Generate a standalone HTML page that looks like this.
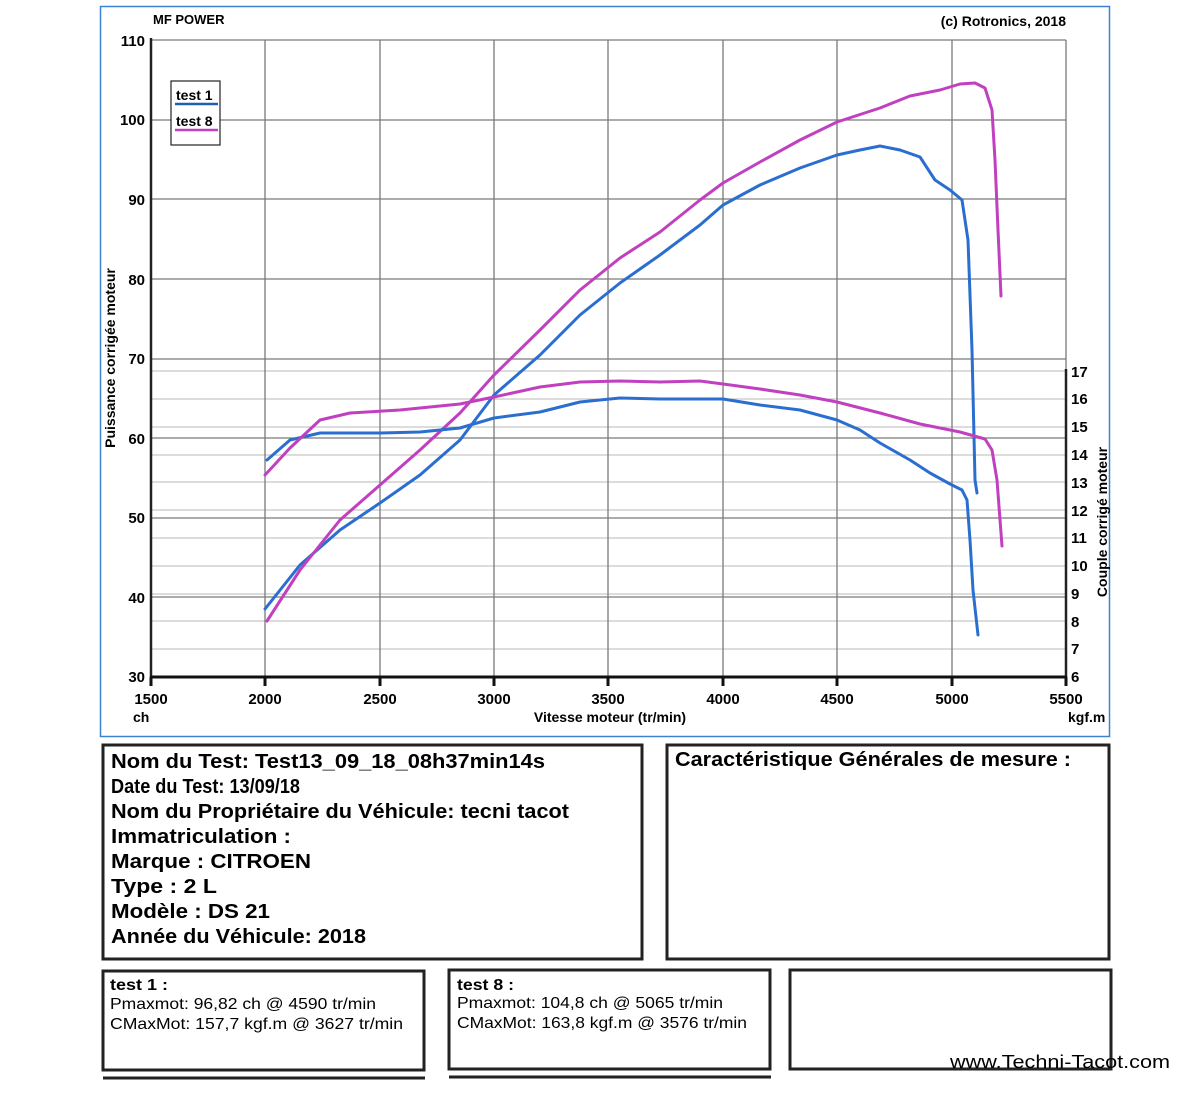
<!DOCTYPE html>
<html><head><meta charset="utf-8"><style>
html,body{margin:0;padding:0;background:#fff;}
svg{display:block;font-family:"Liberation Sans",Arial,sans-serif;}
</style></head><body>
<svg width="1200" height="1098" viewBox="0 0 1200 1098" xmlns="http://www.w3.org/2000/svg">
<rect width="1200" height="1098" fill="#fff"/>
<rect x="100.5" y="6.5" width="1009" height="730" fill="none" stroke="#3b82d0" stroke-width="1.5"/>
<text x="153" y="24" font-size="13" font-weight="bold">MF POWER</text>
<text x="1066" y="26" font-size="14" font-weight="bold" text-anchor="end">(c) Rotronics, 2018</text>
<g stroke="#b8b8b8" stroke-width="1">
<line x1="151" y1="371" x2="1066" y2="371"/><line x1="151" y1="399" x2="1066" y2="399"/>
<line x1="151" y1="427" x2="1066" y2="427"/><line x1="151" y1="455" x2="1066" y2="455"/>
<line x1="151" y1="482" x2="1066" y2="482"/><line x1="151" y1="510" x2="1066" y2="510"/>
<line x1="151" y1="538" x2="1066" y2="538"/><line x1="151" y1="566" x2="1066" y2="566"/>
<line x1="151" y1="594" x2="1066" y2="594"/><line x1="151" y1="621" x2="1066" y2="621"/>
<line x1="151" y1="649" x2="1066" y2="649"/>
</g>
<g stroke="#7a7a7a" stroke-width="1.3">
<line x1="151" y1="40" x2="1066" y2="40"/><line x1="151" y1="120" x2="1066" y2="120"/>
<line x1="151" y1="199" x2="1066" y2="199"/><line x1="151" y1="279" x2="1066" y2="279"/>
<line x1="151" y1="359" x2="1066" y2="359"/><line x1="151" y1="438" x2="1066" y2="438"/>
<line x1="151" y1="518" x2="1066" y2="518"/><line x1="151" y1="597" x2="1066" y2="597"/>
<line x1="265" y1="40" x2="265" y2="677"/><line x1="380" y1="40" x2="380" y2="677"/>
<line x1="494" y1="40" x2="494" y2="677"/><line x1="608" y1="40" x2="608" y2="677"/>
<line x1="723" y1="40" x2="723" y2="677"/><line x1="837" y1="40" x2="837" y2="677"/>
<line x1="952" y1="40" x2="952" y2="677"/><line x1="1066" y1="40" x2="1066" y2="371"/>
</g>
<line x1="151" y1="38" x2="151" y2="679" stroke="#222" stroke-width="2.5"/>
<line x1="1066" y1="369" x2="1066" y2="679" stroke="#222" stroke-width="2.5"/>
<line x1="150" y1="677" x2="1067" y2="677" stroke="#111" stroke-width="3"/>
<g stroke="#111" stroke-width="3">
<line x1="265" y1="677" x2="265" y2="686"/><line x1="380" y1="677" x2="380" y2="686"/>
<line x1="494" y1="677" x2="494" y2="686"/><line x1="608" y1="677" x2="608" y2="686"/>
<line x1="723" y1="677" x2="723" y2="686"/><line x1="837" y1="677" x2="837" y2="686"/>
<line x1="952" y1="677" x2="952" y2="686"/><line x1="1066" y1="677" x2="1066" y2="686"/>
<line x1="151" y1="677" x2="151" y2="686"/>
</g>
<g font-size="15" font-weight="bold" text-anchor="end">
<text x="145" y="46">110</text><text x="145" y="125">100</text><text x="145" y="205">90</text>
<text x="145" y="285">80</text><text x="145" y="364">70</text><text x="145" y="444">60</text>
<text x="145" y="523">50</text><text x="145" y="603">40</text><text x="145" y="682">30</text>
</g>
<g font-size="15" font-weight="bold" text-anchor="middle">
<text x="151" y="704">1500</text><text x="265" y="704">2000</text><text x="380" y="704">2500</text>
<text x="494" y="704">3000</text><text x="608" y="704">3500</text><text x="723" y="704">4000</text>
<text x="837" y="704">4500</text><text x="952" y="704">5000</text><text x="1066" y="704">5500</text>
</g>
<text x="133" y="722" font-size="14" font-weight="bold">ch</text>
<text x="610" y="722" font-size="14" font-weight="bold" text-anchor="middle">Vitesse moteur (tr/min)</text>
<text x="1068" y="722" font-size="14" font-weight="bold">kgf.m</text>
<g font-size="15" font-weight="bold">
<text x="1071" y="377">17</text><text x="1071" y="404">16</text><text x="1071" y="432">15</text>
<text x="1071" y="460">14</text><text x="1071" y="488">13</text><text x="1071" y="516">12</text>
<text x="1071" y="543">11</text><text x="1071" y="571">10</text><text x="1071" y="599">9</text>
<text x="1071" y="627">8</text><text x="1071" y="654">7</text><text x="1071" y="682">6</text>
</g>
<text transform="translate(115,358) rotate(-90)" font-size="14" font-weight="bold" text-anchor="middle">Puissance corrigée moteur</text>
<text transform="translate(1107,522) rotate(-90)" font-size="14" font-weight="bold" text-anchor="middle">Couple corrigé moteur</text>
<rect x="171" y="81" width="49" height="64" fill="#fff" stroke="#222" stroke-width="1.2"/>
<text x="176" y="100" font-size="14" font-weight="bold">test 1</text>
<line x1="175" y1="104" x2="218" y2="104" stroke="#1f5fb0" stroke-width="2.5"/>
<text x="176" y="126" font-size="14" font-weight="bold">test 8</text>
<line x1="175" y1="130" x2="218" y2="130" stroke="#c040c0" stroke-width="2.5"/>
<g fill="none" stroke-width="3" stroke-linejoin="round" stroke-linecap="round">
<polyline stroke="#2a6fcf" points="265,609 300,565 340,530 380,503 420,475 460,440 494,395 540,355 580,315 620,283 660,255 700,225 723,205 760,185 800,168 837,155 860,150 880,146 900,150 920,157 935,180 950,190 962,200 968,240 972,350 975,480 977,493"/>
<polyline stroke="#c040c0" points="267,621 300,570 340,520 380,485 420,450 460,413 494,375 540,330 580,290 620,258 660,232 700,200 723,183 760,162 800,140 837,122 880,108 910,96 940,90 960,84 975,83 985,88 992,110 995,160 998,230 1001,296"/>
<polyline stroke="#2a6fcf" points="267,460 290,440 320,433 380,433 420,432 460,428 494,418 540,412 580,402 620,398 660,399 700,399 723,399 760,405 800,410 837,420 860,430 880,443 910,460 930,473 950,484 962,490 967,500 970,540 973,590 978,635"/>
<polyline stroke="#c040c0" points="265,475 290,448 320,420 350,413 400,410 460,404 494,397 540,387 580,382 620,381 660,382 700,381 723,384 760,389 800,395 837,402 880,413 920,424 960,432 985,439 992,450 997,480 1002,546"/>
</g>
<g fill="none" stroke="#222" stroke-width="3">
<rect x="103" y="745" width="539" height="214"/>
<rect x="667" y="745" width="442" height="214"/>
<rect x="103" y="971" width="321" height="99"/>
<rect x="449" y="970" width="321" height="99"/>
<rect x="790" y="970" width="321" height="99"/>
</g>
<line x1="103" y1="1078" x2="425" y2="1078" stroke="#222" stroke-width="3"/>
<line x1="449" y1="1077" x2="771" y2="1077" stroke="#222" stroke-width="3"/>
<g font-size="20" font-weight="bold">
<text x="111" y="768" textLength="434" lengthAdjust="spacingAndGlyphs">Nom du Test: Test13_09_18_08h37min14s</text>
<text x="111" y="793" textLength="189" lengthAdjust="spacingAndGlyphs">Date du Test: 13/09/18</text>
<text x="111" y="818" textLength="458" lengthAdjust="spacingAndGlyphs">Nom du Propriétaire du Véhicule: tecni tacot</text>
<text x="111" y="843" textLength="180" lengthAdjust="spacingAndGlyphs">Immatriculation  :</text>
<text x="111" y="868" textLength="200" lengthAdjust="spacingAndGlyphs">Marque  : CITROEN</text>
<text x="111" y="893" textLength="106" lengthAdjust="spacingAndGlyphs">Type  : 2 L</text>
<text x="111" y="918" textLength="159" lengthAdjust="spacingAndGlyphs">Modèle  : DS 21</text>
<text x="111" y="943" textLength="255" lengthAdjust="spacingAndGlyphs">Année du Véhicule: 2018</text>
<text x="675" y="766" textLength="396" lengthAdjust="spacingAndGlyphs">Caractéristique Générales de mesure :</text>
</g>
<g font-size="16">
<text x="110" y="990" font-weight="bold" textLength="58" lengthAdjust="spacingAndGlyphs">test 1 :</text>
<text x="110" y="1009" textLength="266" lengthAdjust="spacingAndGlyphs">Pmaxmot: 96,82 ch @ 4590 tr/min</text>
<text x="110" y="1029" textLength="293" lengthAdjust="spacingAndGlyphs">CMaxMot: 157,7 kgf.m @ 3627 tr/min</text>
<text x="457" y="990" font-weight="bold" textLength="57" lengthAdjust="spacingAndGlyphs">test 8 :</text>
<text x="457" y="1008" textLength="266" lengthAdjust="spacingAndGlyphs">Pmaxmot: 104,8 ch @ 5065 tr/min</text>
<text x="457" y="1028" textLength="290" lengthAdjust="spacingAndGlyphs">CMaxMot: 163,8 kgf.m @ 3576 tr/min</text>
</g>
<text x="1170" y="1068" font-size="18" text-anchor="end" textLength="220" lengthAdjust="spacingAndGlyphs">www.Techni-Tacot.com</text>
</svg>
</body></html>
